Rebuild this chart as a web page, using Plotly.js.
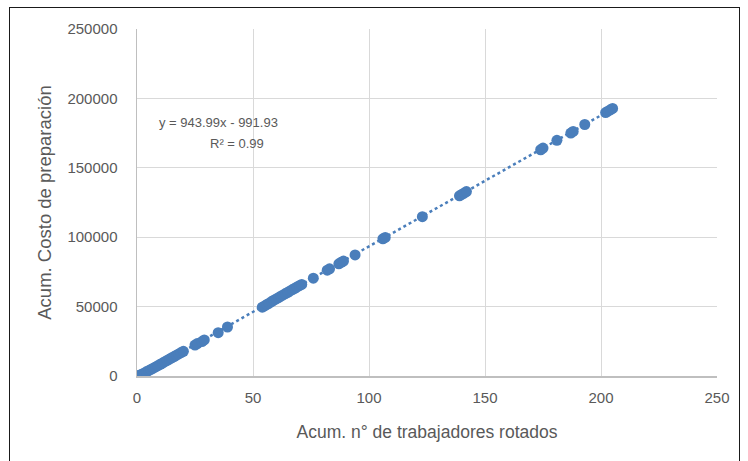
<!DOCTYPE html>
<html>
<head>
<meta charset="utf-8">
<script src="https://cdn.plot.ly/plotly-3.0.1.min.js"></script>
<style>
  html, body { margin: 0; padding: 0; background: #fff; }
  #wrap { position: relative; width: 748px; height: 461px; overflow: hidden; }
  #chart { position: absolute; left: 0; top: 0; width: 748px; height: 461px; }
  #frame { position: absolute; left: 9px; top: 7px; width: 731px; height: 470px;
           border: 1.5px solid #1a1a1a; pointer-events: none; box-sizing: border-box; }
</style>
</head>
<body>
<div id="wrap">
  <div id="chart"></div>
  <div id="frame"></div>
</div>
<script>
// Data
const workers = [0,1,2,3,4,5,6,7,8,9,10,11,12,13,14,15,16,17,18,19,20,
  25,26,28,29,35,39,
  54,55,56,57,58,59,60,61,62,63,64,65,66,67,68,69,70,71,
  76,82,83,87,88,89,94,106,107,123,139,140,141,142,
  174,175,181,187,188,193,202,203,204,205];
const cost = [0,500,1200,2000,3000,3800,4700,5600,6500,7400,8400,9300,10300,11200,12200,13100,14000,15000,15900,16900,17800,
  22300,23400,24800,26000,31200,35300,
  49600,50500,51600,52500,53600,54600,55500,56400,57500,58400,59400,60300,61300,62300,63200,64200,65100,66000,
  70500,76200,77200,80800,81900,82800,87200,98800,99800,114800,129800,130800,131800,132900,
  163000,164200,169800,175000,176200,181200,189800,190800,191800,192800];

// Trendline coefficients shown on the chart
const slope = 943.99;
const intercept = -991.93;
const xTickVals = [0,50,100,150,200,250];
const yTickVals = [0,50000,100000,150000,200000,250000];
const eqText = "y = 943.99x - 991.93";
const r2Text = "R² = 0.99";

const xMin = Math.min(...workers), xMax = Math.max(...workers);
const trendX = [xMin, xMax];
const trendY = trendX.map(v => slope * v + intercept);

const blue = '#4a7ebb';
const font = "'Liberation Sans', Arial, sans-serif";
const grey = '#595959';

const traces = [
  {
    x: trendX, y: trendY, type: 'scatter', mode: 'lines',
    line: { color: blue, width: 2.5, dash: 'dot' },
    hoverinfo: 'skip', showlegend: false
  },
  {
    x: workers, y: cost, type: 'scatter', mode: 'markers',
    marker: { color: blue, size: 11 },
    showlegend: false
  }
];

const layout = {
  width: 748, height: 461,
  margin: { l: 137, r: 31, t: 29, b: 85 },
  paper_bgcolor: '#fff', plot_bgcolor: '#fff',
  font: { family: font, color: grey, size: 14 },
  xaxis: {
    range: [0, 250], tickvals: xTickVals, ticktext: xTickVals.map(String),
    showgrid: true, gridcolor: '#d9d9d9', gridwidth: 1,
    showline: true, linecolor: '#bfbfbf', linewidth: 1.5,
    zeroline: false, ticks: '', ticklabelstandoff: 7,
    tickfont: { size: 15, color: grey },
    title: { text: 'Acum. n° de trabajadores rotados', font: { size: 17.5, color: grey }, standoff: 21 }
  },
  yaxis: {
    range: [0, 250000], tickvals: yTickVals, ticktext: yTickVals.map(String),
    showgrid: true, gridcolor: '#d9d9d9', gridwidth: 1,
    showline: true, linecolor: '#bfbfbf', linewidth: 1.5,
    zeroline: false, ticks: '', ticklabelstandoff: 15,
    tickfont: { size: 15, color: grey },
    title: { text: 'Acum. Costo de preparación', font: { size: 18.5, color: grey }, standoff: 11 }
  },
  annotations: [
    { xref: 'paper', yref: 'paper', x: (218 - 137) / 580, y: (376 - 122) / 347,
      text: eqText, showarrow: false, xanchor: 'center', yanchor: 'middle',
      font: { size: 13, color: grey } },
    { xref: 'paper', yref: 'paper', x: (237 - 137) / 580, y: (376 - 143) / 347,
      text: r2Text, showarrow: false, xanchor: 'center', yanchor: 'middle',
      font: { size: 13, color: grey } }
  ]
};

Plotly.newPlot('chart', traces, layout, { displayModeBar: false, staticPlot: true });
</script>
</body>
</html>
